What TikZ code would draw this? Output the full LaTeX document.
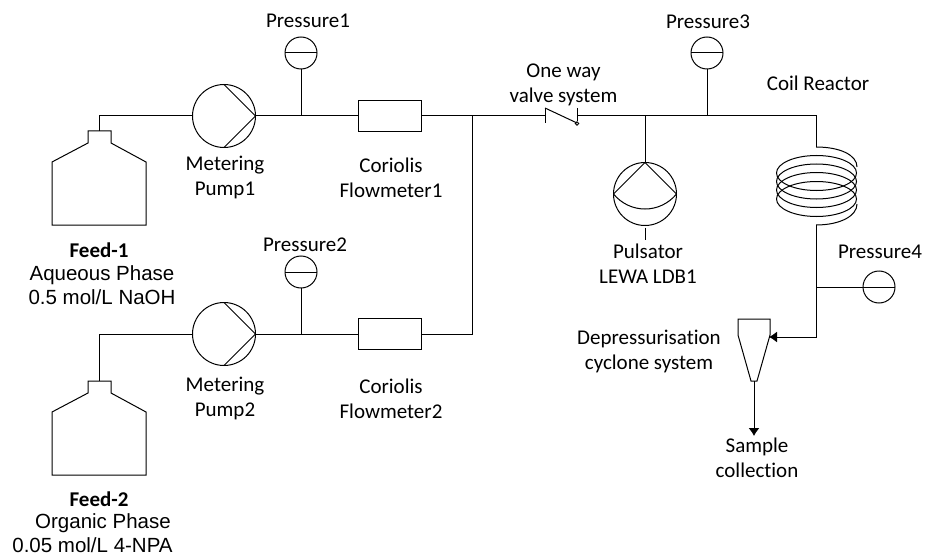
\documentclass[tikz,border=0pt]{standalone}
\usepackage{fontspec}
\setmainfont[Ligatures=NoCommon]{Carlito}
\newfontfamily\arialfont{Liberation Sans}
\usepackage{tikz}
\usetikzlibrary{arrows,arrows.meta}
\usetikzlibrary{shapes,positioning,calc}
\tikzset{
	pipe/.style={line width=1pt},
	flowtip/.style={-{Latex[length=8pt,width=11pt]}},
	pumpbody/.style={circle,draw,line width=1pt,minimum size=63pt,inner sep=0pt,outer sep=0pt},
	gauge/.style={circle,draw,line width=1pt,minimum size=32pt,inner sep=0pt,outer sep=0pt},
	flowbox/.style={rectangle,draw,line width=1pt,minimum width=63pt,minimum height=31pt,inner sep=0pt,outer sep=0pt},
	lbl/.style={align=center,inner sep=0pt,font=\fontsize{21}{25}\selectfont},
	lblphase/.style={align=center,inner sep=0pt,font=\fontsize{20.5}{24}\selectfont\arialfont}
}
\begin{document}
\begin{tikzpicture}[x=1pt,y=-1pt]
	\useasboundingbox (0,0) rectangle (925,556);
	% equipment
	\node[pumpbody] (pump1) at (224,116) {};
	\node[pumpbody] (pump2) at (224,334) {};
	\node[pumpbody] (pulsator) at (645,194) {};
	\node[flowbox] (flow1) at (389.5,116) {};
	\node[flowbox] (flow2) at (389.5,334) {};
	\node[gauge] (press1) at (301,53) {};
	\node[gauge] (press2) at (301,272) {};
	\node[gauge] (press3) at (707,53) {};
	\node[gauge] (press4) at (879,287) {};
	\coordinate (tank1) at (99,131); \coordinate (tank2) at (99,381);
	\coordinate (join1) at (472,116); \coordinate (join2) at (472,334);
	\coordinate (valveIn) at (545,116); \coordinate (valveOut) at (577,116);
	\coordinate (tee1) at (301,116); \coordinate (tee2) at (301,334);
	\coordinate (teePuls) at (645,116); \coordinate (teeP3) at (707,116);
	\coordinate (coilIn) at (816,147); \coordinate (coilOut) at (816,225);
	\coordinate (teeP4) at (816,287);
	\coordinate (cycloneIn) at (769,337); \coordinate (cycloneOut) at (754,381);
	\coordinate (pulsTail) at (645,240); \coordinate (sampleEnd) at (754,436);
	% tanks
	\draw[pipe] (52,225) -- (52,162) -- (88,143) -- (88,131) -- (111,131) -- (111,143) -- (146,162) -- (146,225) -- cycle;
	\draw[pipe] (52,475) -- (52,412) -- (88,393) -- (88,381) -- (111,381) -- (111,393) -- (146,412) -- (146,475) -- cycle;
	% pump and gauge insides
	\draw[pipe] (pump1.north) -- (pump1.east) -- (pump1.south);
	\draw[pipe] (pump2.north) -- (pump2.east) -- (pump2.south);
	\draw[pipe] (pulsator.west) -- (pulsator.north) -- (pulsator.east);
	\draw[pipe] (pulsator.west) .. controls (630,214) and (660,214) .. (pulsator.east);
	\draw[pipe] (press1.west) -- (press1.east);
	\draw[pipe] (press2.west) -- (press2.east);
	\draw[pipe] (press3.west) -- (press3.east);
	\draw[pipe] (press4.west) -- (press4.east);
	% pipes
	\draw[pipe] (tank1) |- (pump1.west);
	\draw[pipe] (tank2) |- (pump2.west);
	\draw[pipe] (pump1.east) -- (flow1.west);
	\draw[pipe] (pump2.east) -- (flow2.west);
	\draw[pipe] (press1.south) -- (tee1);
	\draw[pipe] (press2.south) -- (tee2);
	\draw[pipe] (flow1.east) -- (join1);
	\draw[pipe] (flow2.east) -- (join2) -- (join1);
	\draw[pipe] (join1) -- (valveIn);
	% valve
	\draw[pipe] (545,108) -- (545,123);
	\draw[pipe] (545,108) -- (577,123);
	\draw[pipe] (577,108) -- (577,121);
	\draw[line width=0.8pt] (577,123.5) circle (1.7);
	\draw[pipe] (valveOut) -| (coilIn);
	\draw[pipe] (teePuls) -- (pulsator.north);
	\draw[pipe] (pulsator.south) ++(0,2) -- (pulsTail);
	\draw[pipe] (press3.south) -- (teeP3);
	% coil
	\draw[pipe] (coilIn) .. controls (840,147) and (857,155) .. (857,167);
	\foreach \cy in {173,181.5,190,199} \draw[pipe] (816.5,\cy) ellipse (40 and 17.5);
	\draw[pipe] (857,204) .. controls (857,216) and (840,225) .. (coilOut);
	\draw[pipe] (coilOut) -- (teeP4) -- (press4.west);
	\draw[pipe,flowtip] (teeP4) |- (cycloneIn);
	% cyclone
	\draw[pipe] (751,381) -- (738,335) -- (738,319) -- (770,319) -- (770,335) -- (757,381) -- cycle;
	\draw[pipe,flowtip] (cycloneOut) -- (sampleEnd);
	% labels
	\node[lbl] (lblP1) at (308,21) {Pressure1};
	\node[lbl] (lblP2) at (305,245) {Pressure2};
	\node[lbl] (lblP3) at (708,22) {Pressure3};
	\node[lbl] (lblP4) at (880,252) {Pressure4};
	\node[lbl] (lblPump1) at (225,177.5) {Metering\\Pump1};
	\node[lbl] (lblPump2) at (225,398) {Metering\\Pump2};
	\node[lbl] (lblFlow1) at (391,177.5) {Coriolis\\Flowmeter1};
	\node[lbl] (lblFlow2) at (391,399) {Coriolis\\Flowmeter2};
	\node[lbl] (lblValve) at (563.5,84.5) {One way\\valve system};
	\node[lbl] (lblCoil) at (818,83) {Coil Reactor};
	\node[lbl] (lblPuls) at (648,264) {Pulsator\\LEWA LDB1};
	\node[lbl] (lblCyc) at (649,351.5) {Depressurisation\\cyclone system};
	\node[lbl] (lblSample) at (757,457.5) {Sample\\collection};
	\node[lbl] (lblFeed1) at (99,250) {\textbf{Feed-1}};
	\node[lbl] (lblFeed2) at (99,499) {\textbf{Feed-2}};
	\node[lblphase] (lblAq) at (102,285) {Aqueous Phase\\0.5 mol/L NaOH};
	\node[lblphase] (lblOrg) at (92.5,533) {\hspace*{21pt}Organic Phase\\0.05 mol/L 4-NPA};
\end{tikzpicture}
\end{document}
